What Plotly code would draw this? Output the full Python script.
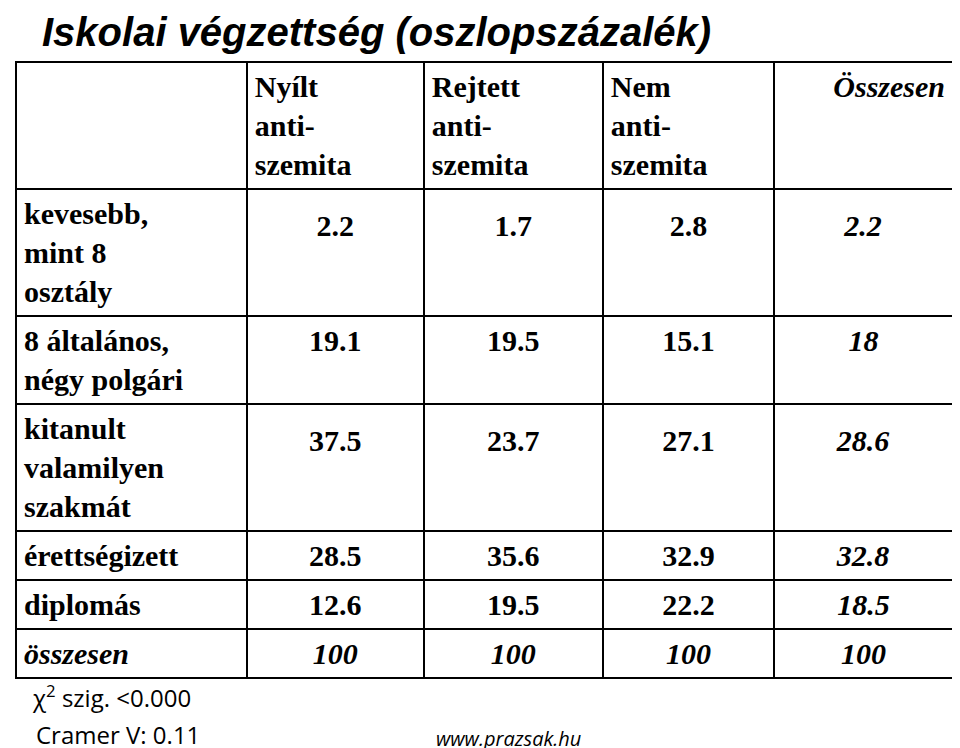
import plotly.graph_objects as go

title = "Iskolai végzettség (oszlopszázalék)"
columns = ["", "Nyílt<br>anti-<br>szemita", "Rejtett<br>anti-<br>szemita", "Nem<br>anti-<br>szemita", "<i>Összesen</i>"]
rows = ["kevesebb,<br>mint 8<br>osztály", "8 általános,<br>négy polgári", "kitanult<br>valamilyen<br>szakmát",
        "érettségizett", "diplomás", "összesen"]
nyilt = ["2.2", "19.1", "37.5", "28.5", "12.6", "100"]
rejtett = ["1.7", "19.5", "23.7", "35.6", "19.5", "100"]
nem = ["2.8", "15.1", "27.1", "32.9", "22.2", "100"]
osszesen = ["2.2", "18", "28.6", "32.8", "18.5", "100"]
# vertical offset (line breaks) so numbers sit in the middle of tall rows
lead = ["<br>", "", "<br>", "", "", ""]


def fmt(vals, italic_all=False):
    out = []
    for i, v in enumerate(vals):
        t = v if not (italic_all or i == len(vals) - 1) else "<i>" + v + "</i>"
        out.append(lead[i] + "<b>" + t + "</b>")
    return out


fig = go.Figure(go.Table(
    domain=dict(x=[8 / 960, 0.985], y=[0, 1 - 54 / 748]),
    columnwidth=[232, 178, 180, 172, 180],
    header=dict(
        values=["<b>" + c + "</b>" for c in columns],
        align=["left", "left", "left", "left", "right"],
        font=dict(family="Liberation Serif", size=30, color="black"),
        line=dict(color="black", width=2),
        fill=dict(color="white"),
        height=34,
    ),
    cells=dict(
        values=[
            ["<b>" + r + "</b>" if r != "összesen" else "<b><i>" + r + "</i></b>" for r in rows],
            fmt(nyilt), fmt(rejtett), fmt(nem), fmt(osszesen, True),
        ],
        align=["left", "center", "center", "center", "center"],
        font=dict(family="Liberation Serif", size=30, color="black"),
        line=dict(color="black", width=2),
        fill=dict(color="white"),
        height=34,
    ),
))

fig.add_annotation(text="<b><i>" + title + "</i></b>", x=32 / 960, y=1.0, xref="paper", yref="paper",
                   xanchor="left", yanchor="top", showarrow=False,
                   font=dict(family="Liberation Sans", size=40, color="black"))
fig.add_shape(type="line", xref="paper", yref="paper", x0=32 / 960, x1=945 / 960,
              y0=1 - 54 / 748, y1=1 - 54 / 748, line=dict(color="black", width=2))
fig.add_annotation(text="χ<sup>2</sup> szig. <0.000", x=22 / 960, y=1 - 688 / 748, xref="paper", yref="paper",
                   xanchor="left", yanchor="middle", showarrow=False,
                   font=dict(family="Open Sans", size=24, color="black"))
fig.add_annotation(text="Cramer V: 0.11", x=26 / 960, y=1 - 726 / 748, xref="paper", yref="paper",
                   xanchor="left", yanchor="middle", showarrow=False,
                   font=dict(family="Open Sans", size=24, color="black"))
fig.add_annotation(text="<i>www.prazsak.hu</i>", x=500 / 960, y=1 - 730 / 748, xref="paper", yref="paper",
                   xanchor="center", yanchor="middle", showarrow=False,
                   font=dict(family="Open Sans", size=20, color="black"))

fig.update_layout(width=960, height=748, margin=dict(l=0, r=0, t=0, b=0),
                  paper_bgcolor="white", plot_bgcolor="white")
fig.write_html("out.html")
